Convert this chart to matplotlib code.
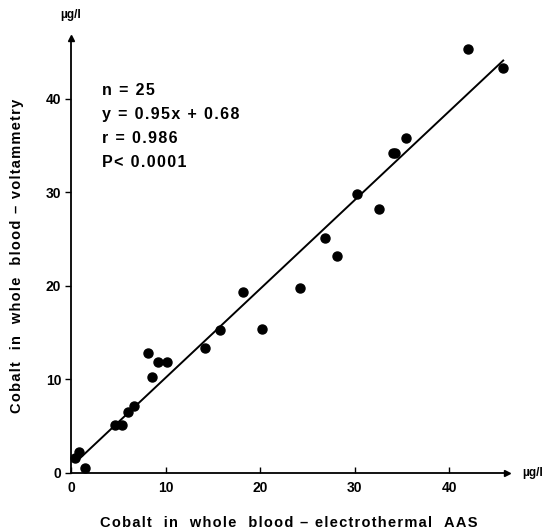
import numpy as np
import matplotlib
matplotlib.use("Agg")
import matplotlib.pyplot as plt

# cobalt in whole blood, ug/l
aas = [0.4, 0.85, 1.5, 4.65, 5.4, 6.0, 6.7, 8.1, 8.6, 9.2, 10.2, 14.2, 15.8,
       18.2, 20.2, 24.2, 26.9, 28.1, 30.2, 32.6, 34.0, 34.3, 35.4, 42.0, 45.7]
volt = [1.6, 2.2, 0.5, 5.1, 5.1, 6.5, 7.2, 12.8, 10.3, 11.9, 11.9, 13.4, 15.3,
        19.4, 15.4, 19.8, 25.1, 23.2, 29.8, 28.2, 34.2, 34.2, 35.8, 45.3, 43.3]
slope, intercept = 0.95, 0.68
fit_x = [0.8, 45.7]
stats = ["n = 25", "y = 0.95x + 0.68", "r = 0.986", "P< 0.0001"]
ticks = [0, 10, 20, 30, 40]


def spaced(s):
    # mimic the wide letter spacing of the printed labels
    return "\u200a".join(s)


plt.rcParams["font.family"] = ["Liberation Sans", "DejaVu Sans"]

fig = plt.figure(figsize=(5.5, 5.32), dpi=100)
ax = fig.add_axes([71 / 550, 59 / 532, 436 / 550, 435 / 532])
ax.set_xlim(0, 46.1)
ax.set_ylim(0, 46.5)

fx = np.array(fit_x)
ax.plot(fx, slope * fx + intercept, color="black", lw=1.4)
ax.plot(aas, volt, "o", color="black", ms=6.5, clip_on=False)

for s in ["top", "right"]:
    ax.spines[s].set_visible(False)
for s in ["left", "bottom"]:
    ax.spines[s].set_linewidth(1.3)
ax.plot(1, 0, ">", color="black", ms=5, transform=ax.transAxes, clip_on=False)
ax.plot(0, 1, "^", color="black", ms=5, transform=ax.transAxes, clip_on=False)

ax.set_xticks(ticks)
ax.set_yticks(ticks)
ax.tick_params(axis="x", direction="in", length=4, width=1, labelsize=10, pad=6)
ax.tick_params(axis="y", direction="out", length=4, width=1, labelsize=10, pad=3)
for lab in ax.get_xticklabels() + ax.get_yticklabels():
    lab.set_fontweight("bold")

ax.text(1.035, 0, "µg/l", transform=ax.transAxes, ha="left", va="center",
        fontsize=8.5, fontweight="bold")
ax.text(0, 1.04, "µg/l", transform=ax.transAxes, ha="center", va="bottom",
        fontsize=8.5, fontweight="bold")

ax.text(3.3, 41.7, "\n".join(spaced(s) for s in stats), ha="left", va="top",
        fontsize=11.5, fontweight="bold", linespacing=1.75)

ax.set_xlabel(spaced("Cobalt  in  whole  blood – electrothermal  AAS"),
              fontsize=10.5, fontweight="bold", labelpad=15)
ax.set_ylabel(spaced("Cobalt  in  whole  blood – voltammetry"),
              fontsize=10.5, fontweight="bold", labelpad=16)

fig.savefig("out.png", dpi=100)
